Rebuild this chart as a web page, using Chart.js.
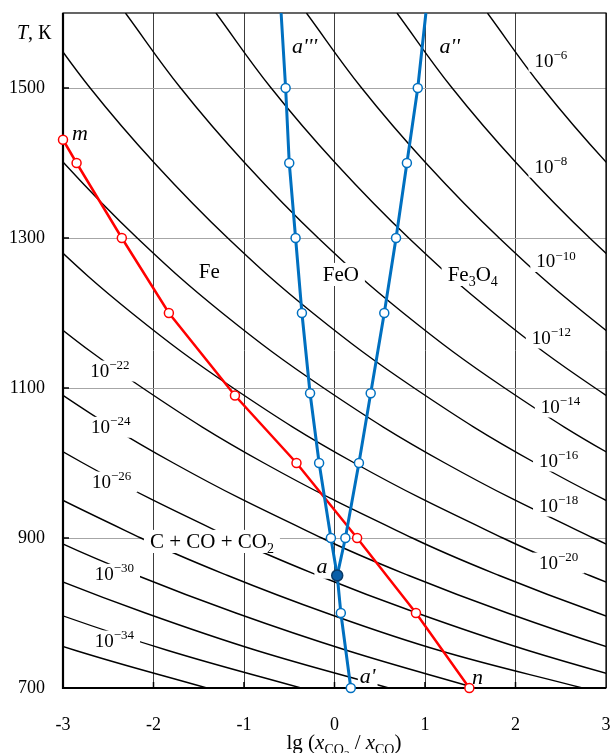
<!DOCTYPE html>
<html>
<head>
<meta charset="utf-8">
<script src="https://cdn.jsdelivr.net/npm/chart.js@4.4.1/dist/chart.umd.min.js"></script>
<style>
  html, body { margin: 0; padding: 0; background: #fff; }
</style>
</head>
<body>
<canvas id="chart" width="613" height="753"></canvas>
<script>
const temps = [700, 750, 800, 850, 900, 1000, 1100, 1200, 1300, 1400, 1500, 1600]

// lg(xCO2/xCO) along each isoline pO2 = 10^n, one value per temperature
const iso6  = [13.58, 12.14, 10.91, 9.82, 8.86, 7.22, 5.88, 4.76, 3.82, 3.01, 2.30, 1.69]
const iso8  = [12.58, 11.14, 9.91, 8.82, 7.86, 6.22, 4.88, 3.76, 2.82, 2.01, 1.30, 0.69]
const iso10 = [11.58, 10.14, 8.91, 7.82, 6.86, 5.22, 3.88, 2.76, 1.82, 1.01, 0.30, -0.31]
const iso12 = [10.58, 9.14, 7.91, 6.82, 5.86, 4.22, 2.88, 1.76, 0.82, 0.01, -0.70, -1.31]
const iso14 = [9.58, 8.14, 6.91, 5.82, 4.86, 3.22, 1.88, 0.76, -0.18, -0.99, -1.70, -2.31]
const iso16 = [8.58, 7.14, 5.91, 4.82, 3.86, 2.22, 0.88, -0.24, -1.18, -1.99, -2.70, -3.31]
const iso18 = [7.58, 6.14, 4.91, 3.82, 2.86, 1.22, -0.12, -1.24, -2.18, -2.99, -3.70, -4.31]
const iso20 = [6.58, 5.14, 3.91, 2.82, 1.86, 0.22, -1.12, -2.24, -3.18, -3.99, -4.70, -5.31]
const iso22 = [5.58, 4.14, 2.91, 1.82, 0.86, -0.78, -2.12, -3.24, -4.18, -4.99, -5.70, -6.31]
const iso24 = [4.58, 3.14, 1.91, 0.82, -0.14, -1.78, -3.12, -4.24, -5.18, -5.99, -6.70, -7.31]
const iso26 = [3.58, 2.14, 0.91, -0.18, -1.14, -2.78, -4.12, -5.24, -6.18, -6.99, -7.70, -8.31]
const iso28 = [2.74, 1.16, -0.09, -1.18, -2.14, -3.78, -5.12, -6.24, -7.18, -7.99, -8.70, -9.31]
const iso30 = [1.56, 0.14, -1.09, -2.18, -3.14, -4.78, -6.12, -7.24, -8.18, -8.99, -9.70, -10.31]
const iso32 = [0.60, -0.86, -2.09, -3.18, -4.14, -5.78, -7.12, -8.24, -9.18, -9.99, -10.70, -11.31]
const iso34 = [-0.37, -1.84, -3.09, -4.18, -5.14, -6.78, -8.12, -9.24, -10.18, -10.99, -11.70, -12.31]
const iso36 = [-1.41, -2.86, -4.09, -5.18, -6.14, -7.78, -9.12, -10.24, -11.18, -11.99, -12.70, -13.31]

// red line m -> n (C + CO + CO2 equilibrium)
const redT = [1431, 1400, 1300, 1200, 1090, 1000, 900, 800, 700]
const redX = [-3.00, -2.85, -2.35, -1.83, -1.10, -0.42, 0.25, 0.90, 1.49]

// blue lines: a''' (Fe/FeO), a'' (FeO/Fe3O4), a -> a'
const blueT = [1600, 1500, 1400, 1300, 1200, 1093, 1000, 900, 850]
const blueLeftX = [-0.59, -0.54, -0.50, -0.43, -0.36, -0.27, -0.17, -0.04, 0.03]
const blueRightX = [1.01, 0.92, 0.80, 0.68, 0.55, 0.40, 0.27, 0.12, 0.03]
const blueLowT = [850, 800, 700]
const blueLowX = [0.03, 0.07, 0.18]

const xTicks = [-3, -2, -1, 0, 1, 2, 3]
const yTicks = [700, 900, 1100, 1300, 1500]

const serif = '"Liberation Serif", "Times New Roman", serif'
const blue = '#0070c0'
const red = '#ff0000'

// text on the plot, placed by left end / baseline in data units
const sup = e => [['10', ''], ['\u2212' + e, 'sup']]
const notes = [
    { parts: sup(6), x: 2.21, y: 1528, size: 19 },
    { parts: sup(8), x: 2.21, y: 1387, size: 19 },
    { parts: sup(10), x: 2.23, y: 1261, size: 19 },
    { parts: sup(12), x: 2.18, y: 1159, size: 19 },
    { parts: sup(14), x: 2.28, y: 1067, size: 19 },
    { parts: sup(16), x: 2.26, y: 995, size: 19 },
    { parts: sup(18), x: 2.26, y: 935, size: 19 },
    { parts: sup(20), x: 2.26, y: 859, size: 19 },
    { parts: sup(22), x: -2.70, y: 1115, size: 19 },
    { parts: sup(24), x: -2.69, y: 1040, size: 19 },
    { parts: sup(26), x: -2.68, y: 967, size: 19 },
    { parts: sup(30), x: -2.65, y: 844, size: 19 },
    { parts: sup(34), x: -2.65, y: 755, size: 19 },
    { parts: [['Fe', '']], x: -1.50, y: 1247, size: 21 },
    { parts: [['FeO', '']], x: -0.13, y: 1243, size: 21 },
    { parts: [['Fe', ''], ['3', 'sub'], ['O', ''], ['4', 'sub']], x: 1.25, y: 1243, size: 21 },
    { parts: [['C + CO + CO', ''], ['2', 'sub']], x: -2.04, y: 887, size: 21 },
    { parts: [["a'''", 'i']], x: -0.47, y: 1547, size: 22, pad: 2 },
    { parts: [["a''", 'i']], x: 1.16, y: 1547, size: 22, pad: 2 },
    { parts: [['a', 'i']], x: -0.20, y: 853, size: 22, pad: 2 },
    { parts: [["a'", 'i']], x: 0.28, y: 707, size: 22, pad: 2 },
    { parts: [['m', 'i']], x: -2.90, y: 1431, size: 22, pad: 2 },
    { parts: [['n', 'i']], x: 1.52, y: 705, size: 22, pad: 2 }
]

function textRuns(ctx, parts, size, x0, y0, draw) {
    let x = x0
    for (const [txt, kind] of parts) {
        let s = size, dy = 0, style = ''
        if (kind === 'sup') { s = Math.round(size * 0.68); dy = -size * 0.4 }
        if (kind === 'sub') { s = Math.round(size * 0.68); dy = size * 0.25 }
        if (kind === 'sub2') { s = Math.round(size * 0.5); dy = size * 0.45 }
        if (kind === 'i') style = 'italic '
        ctx.font = style + s + 'px ' + serif
        if (draw) ctx.fillText(txt, x, y0 + dy)
        x += ctx.measureText(txt).width
    }
    return x - x0
}

function drawNotes(chart) {
    const { ctx, scales: { x, y } } = chart
    ctx.save()
    ctx.textBaseline = 'alphabetic'
    ctx.textAlign = 'left'
    for (const n of notes) {
        const px = x.getPixelForValue(n.x)
        const py = y.getPixelForValue(n.y)
        const w = textRuns(ctx, n.parts, n.size, px, py, false)
        const pad = n.pad ?? 6
        ctx.fillStyle = '#fff'
        ctx.fillRect(px - pad, py - n.size * 0.85, w + pad * 2, n.size * 1.1)
        ctx.fillStyle = '#000'
        textRuns(ctx, n.parts, n.size, px, py, true)
    }
    ctx.restore()
}

function drawFrame(chart) {
    const { ctx, chartArea: a, scales: { x, y } } = chart
    ctx.save()
    ctx.strokeStyle = '#000'
    ctx.lineWidth = 1.2
    ctx.strokeRect(a.left, a.top, a.right - a.left, a.bottom - a.top)
    ctx.lineWidth = 2.2
    ctx.beginPath()
    ctx.moveTo(a.left, a.top)
    ctx.lineTo(a.left, a.bottom)
    ctx.lineTo(a.right, a.bottom)
    ctx.stroke()
    ctx.lineWidth = 1.5
    ctx.beginPath()
    for (const v of yTicks.slice(1)) {
        const py = y.getPixelForValue(v)
        ctx.moveTo(a.left, py)
        ctx.lineTo(a.left + 6, py)
    }
    for (const v of xTicks.slice(1, -1)) {
        const px = x.getPixelForValue(v)
        ctx.moveTo(px, a.bottom)
        ctx.lineTo(px, a.bottom - 6)
    }
    ctx.stroke()
    ctx.restore()
}

const annotate = {
    id: 'annotate',
    beforeDraw(chart) { chart.$notesDone = false },
    beforeDatasetDraw(chart, args) {
        // label boxes hide the black isolines, the coloured lines go on top
        if (!chart.$notesDone && !chart.data.datasets[args.index].isoline) {
            drawNotes(chart)
            drawFrame(chart)
            chart.$notesDone = true
        }
    },
    afterDraw(chart) {
        const { ctx } = chart
        ctx.save()
        ctx.fillStyle = '#000'
        ctx.textBaseline = 'alphabetic'
        textRuns(ctx, [['T', 'i'], [', \u041a', '']], 20, 17, 39, true)
        const title = [['lg (', ''], ['x', 'i'], ['CO', 'sub'], ['2', 'sub2'], [' / ', ''], ['x', 'i'], ['CO', 'sub'], [')', '']]
        const w = textRuns(ctx, title, 21, 0, 0, false)
        textRuns(ctx, title, 21, 344 - w / 2, 749, true)
        ctx.restore()
    }
}

const isolines = [iso6, iso8, iso10, iso12, iso14, iso16, iso18, iso20,
    iso22, iso24, iso26, iso28, iso30, iso32, iso34, iso36]

const pts = (xs, ts) => xs.map((v, i) => ({ x: v, y: ts[i] }))

const datasets = isolines.map(line => ({
    isoline: true,
    data: pts(line, temps),
    showLine: true,
    borderColor: '#000',
    borderWidth: 1.4,
    pointRadius: 0,
    tension: 0.4,
    order: 10
}))

const openMarker = color => ({
    showLine: true,
    borderColor: color,
    pointBorderColor: color,
    pointBackgroundColor: '#fff',
    pointBorderWidth: 1.5,
    clip: false
})

datasets.push({
    ...openMarker(red),
    data: pts(redX, redT),
    borderWidth: 2.5,
    pointRadius: 4.5,
    order: 2
})
datasets.push({
    ...openMarker(blue),
    data: pts(blueLeftX, blueT),
    borderWidth: 3,
    pointRadius: [0, 4.5, 4.5, 4.5, 4.5, 4.5, 4.5, 4.5, 0],
    order: 1
})
datasets.push({
    ...openMarker(blue),
    data: pts(blueRightX, blueT),
    borderWidth: 3,
    pointRadius: [0, 4.5, 4.5, 4.5, 4.5, 4.5, 4.5, 4.5, 0],
    order: 1
})
datasets.push({
    ...openMarker(blue),
    data: pts(blueLowX, blueLowT),
    borderWidth: 3,
    pointRadius: [0, 4.5, 4.5],
    order: 1
})
datasets.push({
    data: [{ x: blueLowX[0], y: blueLowT[0] }],
    pointRadius: 5.5,
    pointBackgroundColor: '#0a5ea8',
    pointBorderColor: '#0b3a66',
    pointBorderWidth: 1.5,
    clip: false,
    order: 0
})

new Chart(document.getElementById('chart'), {
    type: 'scatter',
    data: { datasets },
    plugins: [annotate],
    options: {
        responsive: false,
        animation: false,
        events: [],
        layout: { padding: { top: 13, right: 6, left: 0, bottom: 0 } },
        elements: { line: { capBezierPoints: false } },
        plugins: { legend: { display: false }, tooltip: { enabled: false } },
        scales: {
            x: {
                type: 'linear',
                min: -3,
                max: 3,
                afterBuildTicks: axis => { axis.ticks = xTicks.map(v => ({ value: v })) },
                afterFit: s => { s.height = 65; s.paddingLeft = 0; s.paddingRight = 0 },
                grid: { color: '#3c3c3c', lineWidth: 1, drawTicks: false },
                border: { display: false },
                ticks: { color: '#000', padding: 26, maxRotation: 0, callback: v => String(v), font: { family: serif, size: 18 } }
            },
            y: {
                type: 'linear',
                min: 700,
                max: 1600,
                afterBuildTicks: axis => { axis.ticks = yTicks.map(v => ({ value: v })) },
                afterFit: s => { s.width = 63; s.paddingTop = 0; s.paddingBottom = 0 },
                grid: { color: '#a6a6a6', lineWidth: 1, drawTicks: false },
                border: { display: false },
                ticks: { color: '#000', padding: 18, callback: v => String(v), font: { family: serif, size: 18 } }
            }
        }
    }
})
</script>
</body>
</html>
